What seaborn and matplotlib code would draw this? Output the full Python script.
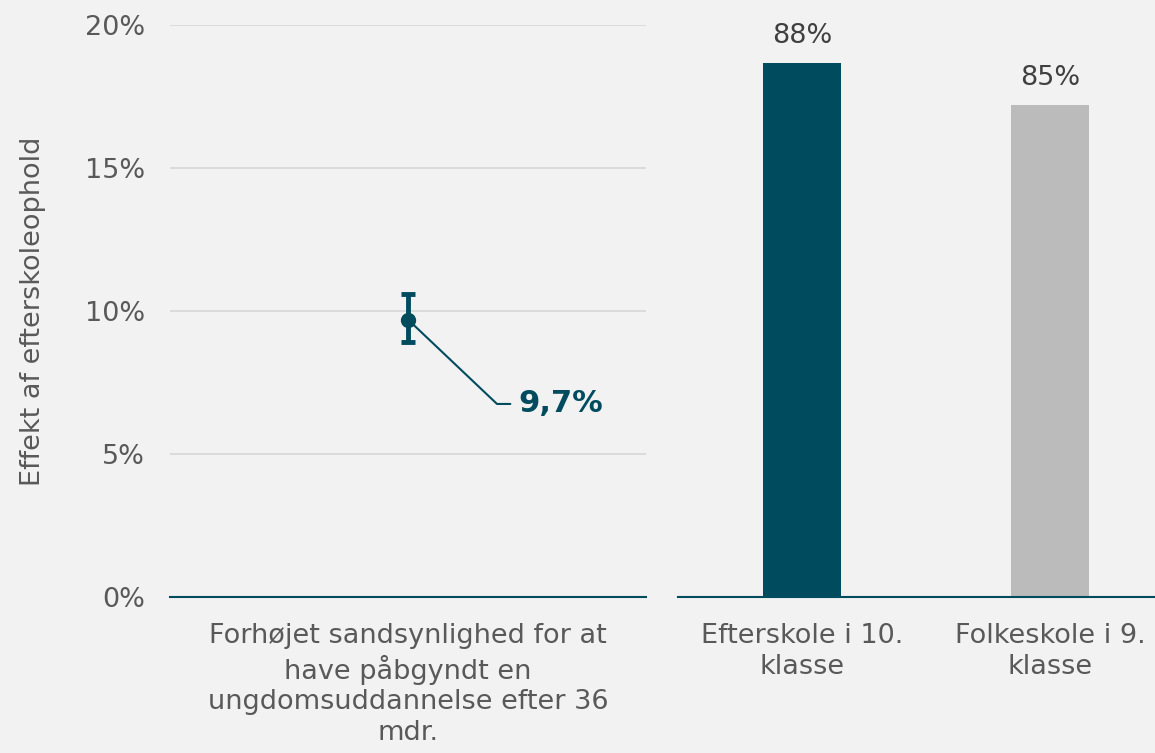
import matplotlib
matplotlib.use("Agg")
import matplotlib.pyplot as plt
import seaborn as sns
import pandas as pd

# data
effect_label = ["Forhøjet sandsynlighed for at\nhave påbgyndt en\nungdomsuddannelse efter 36\nmdr."]
effect_value = [9.7]
effect_low = [8.9]
effect_high = [10.6]

school_labels = ["Efterskole i 10.\nklasse", "Folkeskole i 9.\nklasse"]
school_values = [88, 85]

teal = "#004B5E"
grey = "#BBBBBB"
bg = "#F2F2F2"
txt = "#595959"
fs = 19.5

sns.set_style("white")
plt.rcParams["font.family"] = ["DejaVu Sans"]
plt.rcParams["font.size"] = fs

fig = plt.figure(figsize=(11.55, 7.53), dpi=100, facecolor=bg)
ax1 = fig.add_axes([170 / 1155, 1 - 597 / 753, 476 / 1155, 572 / 753], facecolor=bg)
ax2 = fig.add_axes([678 / 1155, 1 - 597 / 753, 477 / 1155, 572 / 753], facecolor=bg)

# left panel: point estimate with confidence interval
ax1.errorbar(effect_label, effect_value,
             yerr=[[effect_value[0] - effect_low[0]], [effect_high[0] - effect_value[0]]],
             fmt="o", color=teal, ms=10, elinewidth=3.5, capsize=5, capthick=3.5, zorder=3)
ax1.set_xlim(-0.5, 0.5)
ax1.set_ylim(0, 20)
ax1.set_yticks([0, 5, 10, 15, 20])
ax1.set_yticklabels([f"{t}%" for t in [0, 5, 10, 15, 20]])
ax1.yaxis.grid(True, color="#D9D9D9", lw=1.3)
ax1.set_axisbelow(True)
for s in ["top", "right", "left"]:
    ax1.spines[s].set_visible(False)
ax1.spines["bottom"].set_color(teal)
ax1.spines["bottom"].set_linewidth(1.5)
ax1.tick_params(length=0, colors=txt, labelsize=fs)
ax1.tick_params(axis="y", pad=18)
ax1.tick_params(axis="x", pad=19)
for lab in ax1.get_xticklabels():
    lab.set_linespacing(1.22)
ax1.set_ylabel("Effekt af efterskoleophold", color=txt, fontsize=fs, labelpad=28)

# leader line and label
ax1.plot([0, 0.187, 0.215], [effect_value[0], 6.75, 6.75], color=teal, lw=1.5, zorder=2)
ax1.text(0.232, 6.75, f"{effect_value[0]:.1f}%".replace(".", ","), color=teal,
         fontsize=22, fontweight="bold", va="center", ha="left")

# right panel: bars
df = pd.DataFrame({"skole": school_labels, "andel": school_values})
sns.barplot(data=df, x="skole", y="andel", hue="skole", palette=[teal, grey],
            width=0.315, legend=False, ax=ax2, saturation=1, linewidth=0)
ax2.set_xlim(-0.5, 1.423)
ax2.set_ylim(50, 90.7)
ax2.set_yticks([])
ax2.set_xlabel("")
ax2.set_ylabel("")
for s in ["top", "right", "left"]:
    ax2.spines[s].set_visible(False)
ax2.spines["bottom"].set_color(teal)
ax2.spines["bottom"].set_linewidth(1.5)
ax2.tick_params(length=0, colors=txt, labelsize=fs, pad=19)
for lab in ax2.get_xticklabels():
    lab.set_linespacing(1.22)
for c in ax2.containers:
    ax2.bar_label(c, labels=[f"{v:.0f}%" for v in c.datavalues], padding=10,
                  color="#404040", fontsize=fs)

fig.savefig("out.png", dpi=100, facecolor=bg)
